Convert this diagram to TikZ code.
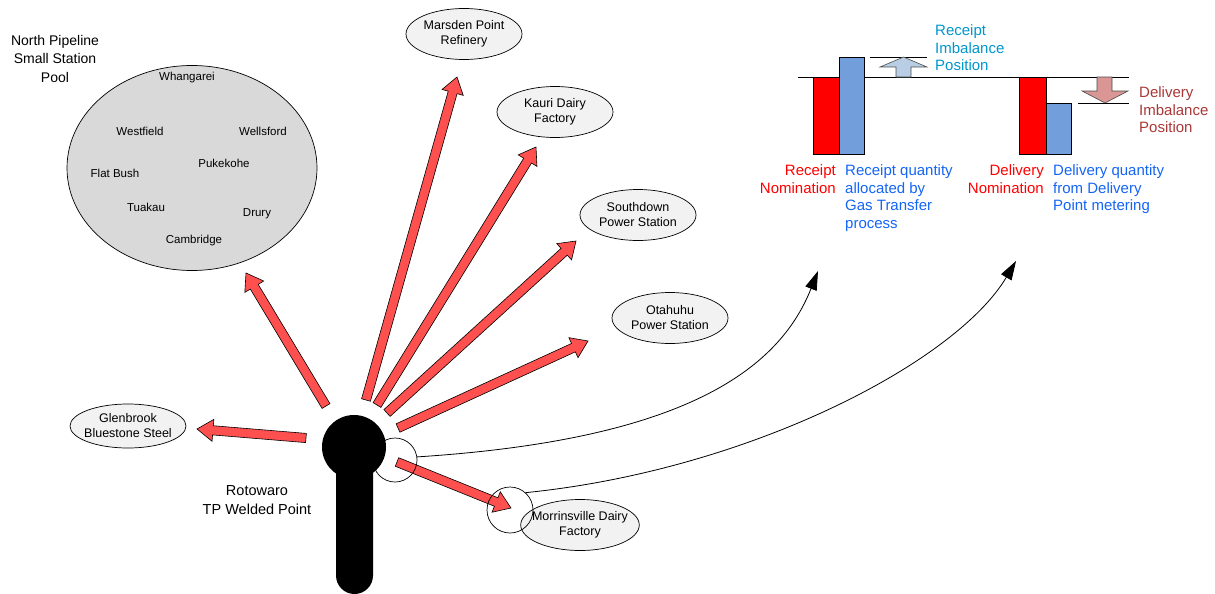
\documentclass[tikz,border=0pt]{standalone}
\usepackage{fontspec}
\setmainfont{Liberation Sans}
\usetikzlibrary{shapes.geometric,arrows.meta,calc}

\definecolor{arrowred}{RGB}{255,80,80}
\definecolor{poolgray}{RGB}{217,217,217}
\definecolor{sitegray}{RGB}{242,242,242}
\definecolor{barblue}{RGB}{114,159,220}
\definecolor{qtyblue}{RGB}{20,100,245}
\definecolor{rcptcyan}{RGB}{0,150,205}
\definecolor{delbrown}{RGB}{170,55,55}
\definecolor{upfill}{RGB}{185,205,228}
\definecolor{downfill}{RGB}{217,150,148}

% block arrow from #1 (tail) to #2 (tip)
\newcommand\redarrow[2]{%
  \coordinate (ahb) at ($(#2)!16pt!(#1)$);
  \draw[redarr] ($(#1)!4.6pt!90:(#2)$) -- ($(ahb)!4.6pt!90:(#2)$)
    -- ($(ahb)!11pt!90:(#2)$) -- (#2) -- ($(ahb)!11pt!-90:(#2)$)
    -- ($(ahb)!4.6pt!-90:(#2)$) -- ($(#1)!4.6pt!-90:(#2)$) -- cycle;}

\begin{document}
\begin{tikzpicture}[x=1pt,y=-1pt,
  site/.style={ellipse, draw=black, line width=0.7pt, fill=sitegray,
    minimum width=116pt, minimum height=51pt, inner sep=0pt, align=center,
    font=\fontsize{12.5}{15}\selectfont},
  town/.style={font=\fontsize{11.5}{14}\selectfont},
  redarr/.style={fill=arrowred, draw=black, line width=0.6pt, line join=miter},
  conn/.style={draw, line width=0.8pt, -{Triangle[length=19pt,width=12pt]}},
  ring/.style={circle, draw=black, line width=0.7pt, inner sep=0pt},
  bartxt/.style={inner sep=0pt, font=\fontsize{15}{17.5}\selectfont},
  bar/.style={draw=black, line width=0.6pt},
]
\useasboundingbox (0,0) rectangle (1215,594);

% ---- small station pool ----
\node[ellipse, draw=black, line width=0.7pt, fill=poolgray,
      minimum width=250pt, minimum height=205pt, inner sep=0pt] (pool) at (192,168) {};
\node[anchor=north, align=center, inner sep=0pt, font=\fontsize{14}{18.5}\selectfont]
  (pooltitle) at (55,34.8) {North Pipeline\\Small Station\\Pool};
\node[town] (whg) at (187,78) {Whangarei};
\node[town] (wsf) at (140,131) {Westfield};
\node[town] (wlf) at (263,131) {Wellsford};
\node[town] (puk) at (224,163) {Pukekohe};
\node[town] (flb) at (115,173) {Flat Bush};
\node[town] (tua) at (146,207) {Tuakau};
\node[town] (dru) at (257,214) {Drury};
\node[town] (cam) at (194,241) {Cambridge};

% ---- delivery points ----
\node[site] (mars) at (464,34) {Marsden Point\\Refinery};
\node[site] (kauri) at (555,112) {Kauri Dairy\\Factory};
\node[site] (south) at (638,215) {Southdown\\Power Station};
\node[site] (otah) at (670,318) {Otahuhu\\Power Station};
\node[site, minimum height=44pt, inner sep=-3pt] (glen) at (128,426) {Glenbrook\\Bluestone Steel};
\node[site, inner sep=-6pt] (morr) at (580,525) {Morrinsville Dairy\\Factory};

% ---- welded point ----
\fill[rounded corners=18.5pt] (336,440) rectangle (373,594);
\node[circle, fill=black, minimum size=64pt, inner sep=0pt] (roto) at (354,447) {};
\node[anchor=north, align=center, inner sep=0pt, font=\fontsize{14.5}{19}\selectfont]
  (rotolbl) at (257,485) {Rotowaro\\TP Welded Point};

% ---- flow arrows ----
\coordinate (pool-t) at (326,406);  \coordinate (pool-h) at (246,273);
\coordinate (mars-t) at (366,400);  \coordinate (mars-h) at (457,77);
\coordinate (kauri-t) at (377,405); \coordinate (kauri-h) at (536,147);
\coordinate (south-t) at (387,413); \coordinate (south-h) at (576,241);
\coordinate (otah-t) at (398,428);  \coordinate (otah-h) at (588,341);
\coordinate (glen-t) at (306,438);  \coordinate (glen-h) at (197,429);
\coordinate (morr-t) at (397,462);  \coordinate (morr-h) at (511,508);
\redarrow{pool-t}{pool-h}
\redarrow{mars-t}{mars-h}
\redarrow{kauri-t}{kauri-h}
\redarrow{south-t}{south-h}
\redarrow{otah-t}{otah-h}
\redarrow{glen-t}{glen-h}
\redarrow{morr-t}{morr-h}

% ---- measurement rings ----
\node[ring, minimum size=44pt] (c1) at (395,460) {};
\node[ring, minimum size=46pt] (c2) at (510,510) {};

% ---- links to the imbalance chart ----
\coordinate (rn-tip) at (818,271);
\coordinate (dn-tip) at (1016,261);
\draw[conn] (c1.8) .. controls (680,440) and (778,372) .. (rn-tip);
\draw[conn] (c2.48) .. controls (750,470) and (956,362) .. (dn-tip);

% ---- imbalance bars ----
\draw[line width=0.7pt] (798,77) -- (1129,77);
\draw[bar, fill=red] (813,77) rectangle (839,154);
\draw[bar, fill=barblue] (839,57) rectangle (864,154);
\draw[bar, fill=red] (1019,77) rectangle (1046,154);
\draw[bar, fill=barblue] (1046,103) rectangle (1071,154);

\draw[line width=0.6pt] (870,57) -- (927,57);
\draw[line width=0.6pt] (1078,103) -- (1129,103);
\draw[fill=upfill, draw=black!70, line width=0.6pt]
  (896,77) -- (896,67) -- (880,67) -- (903.5,57) -- (927,67) -- (911,67) -- (911,77) -- cycle;
\draw[fill=downfill, draw=black!70, line width=0.6pt]
  (1097,77) -- (1097,91) -- (1082,91) -- (1105,103) -- (1128,91) -- (1112,91) -- (1112,77) -- cycle;

\node[bartxt, anchor=north west, align=left, text=rcptcyan] (rimb) at (935,24.6)
  {Receipt\\Imbalance\\Position};
\node[bartxt, anchor=north west, align=left, text=delbrown] (dimb) at (1139,86.6)
  {Delivery\\Imbalance\\Position};
\node[bartxt, anchor=north east, align=right, text=red] (rnom) at (836,164.6)
  {Receipt\\Nomination};
\node[bartxt, anchor=north west, align=left, text=qtyblue] (rqty) at (845,164.6)
  {Receipt quantity\\allocated by\\Gas Transfer\\process};
\node[bartxt, anchor=north east, align=right, text=red] (dnom) at (1044,164.6)
  {Delivery\\Nomination};
\node[bartxt, anchor=north west, align=left, text=qtyblue] (dqty) at (1053,164.6)
  {Delivery quantity\\from Delivery\\Point metering};
\end{tikzpicture}
\end{document}
